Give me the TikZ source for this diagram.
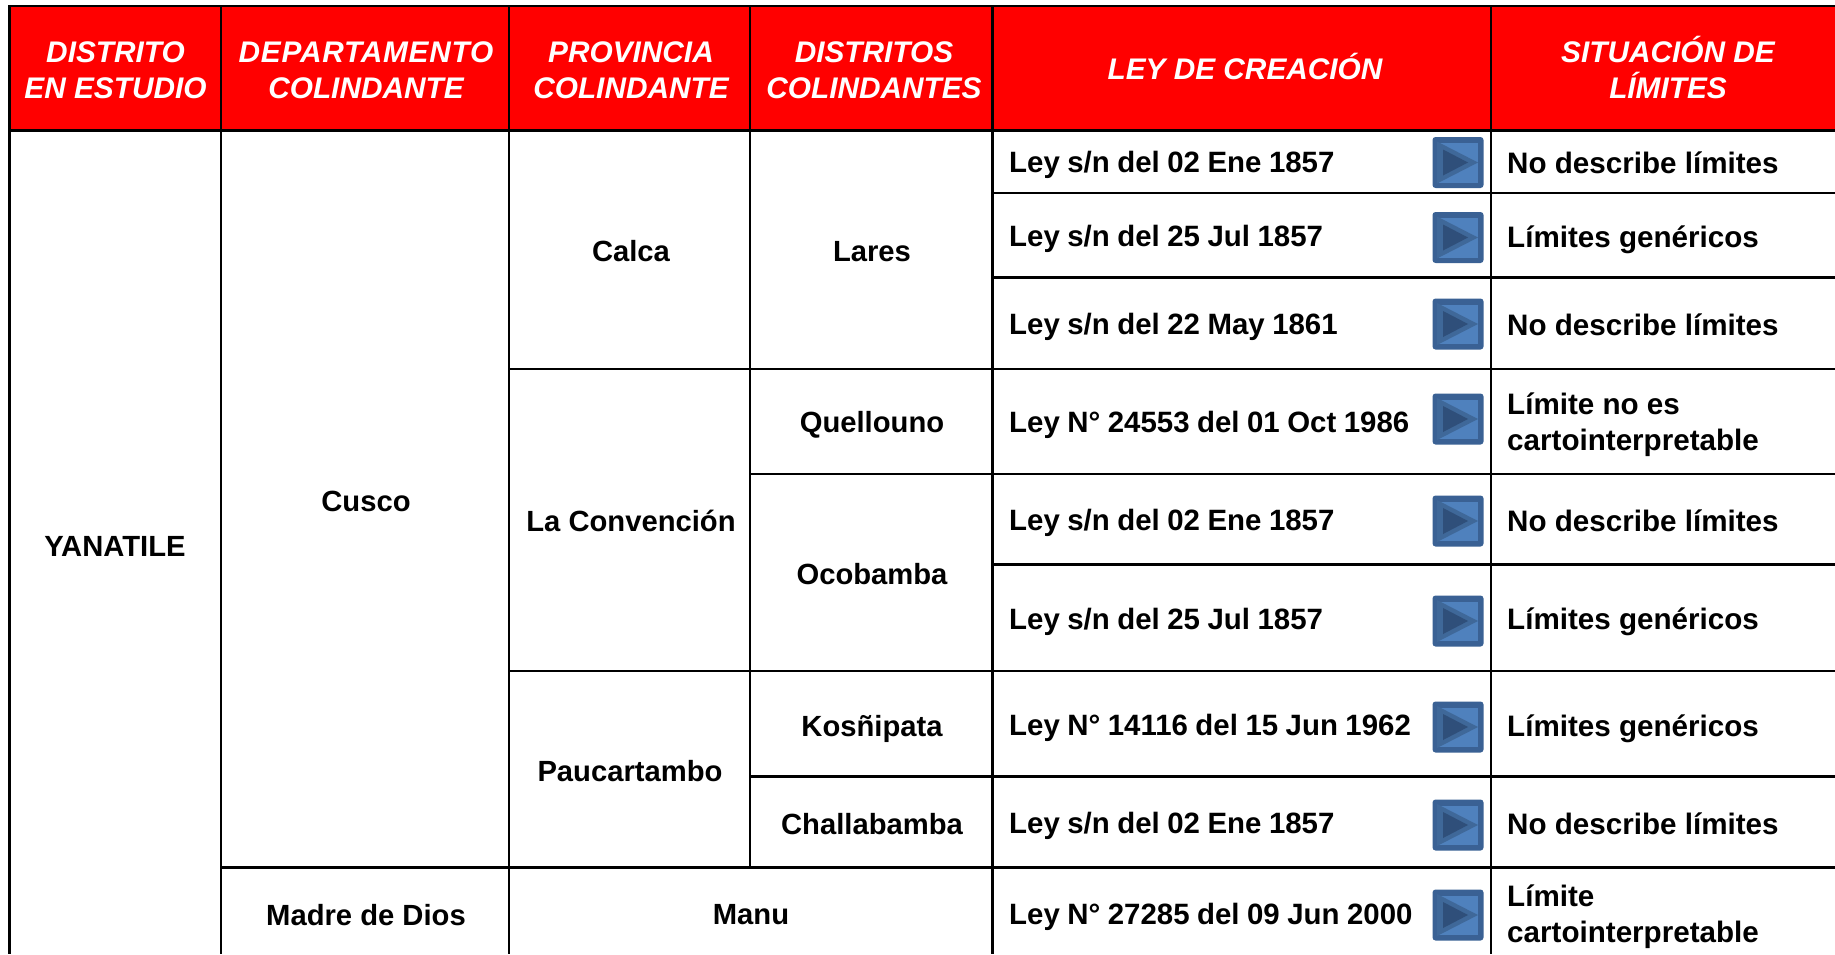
\documentclass[tikz,border=0pt]{standalone}
\usepackage{fontspec}
\setmainfont{Liberation Sans}
\newfontfamily\lawfont[WordSpace=0.92]{Liberation Sans}
\definecolor{icoEdge}{HTML}{3A6194}
\definecolor{icoFill}{HTML}{4F81BD}
\definecolor{icoTri}{HTML}{3F6899}
\definecolor{icoDark}{HTML}{2F4F7A}
\tikzset{
  rule/.style={line width=2.2pt,black},
  head/.style={font=\fontsize{29.8}{36}\selectfont\bfseries\itshape,text=white,align=center,inner sep=0pt},
  cell/.style={font=\fontsize{29.2}{36}\selectfont\bfseries,text=black,align=center,inner sep=0pt},
  lawcell/.style={font=\lawfont\fontsize{29.4}{36}\selectfont\bfseries,text=black,align=left,anchor=west,inner sep=0pt},
  lcell/.style={font=\fontsize{29.6}{36}\selectfont\bfseries,text=black,align=left,anchor=west,inner sep=0pt},
  pics/playicon/.style={code={
    \fill[icoEdge,rounded corners=3pt] (-25.5,-25.5) rectangle (25.5,25.5);
    \fill[icoFill] (-19.5,-19.5) rectangle (20,20);
    \fill[icoTri] (-21,-21) -- (20,0) -- (-21,21) -- cycle;
    \fill[icoDark] (-15,-13) -- (10,0) -- (-15,13) -- cycle;
  }}
}
\begin{document}
\begin{tikzpicture}[x=1pt,y=-1pt]
\useasboundingbox (0,0) rectangle (1835,954);
\fill[white] (0,0) rectangle (1835,954);
\fill[red] (9.5,6) rectangle (1835,130.5);
% vertical rules
\draw[rule] (9.5,5) -- (9.5,954);
\draw[rule] (221,5) -- (221,954);
\draw[rule] (509,5) -- (509,954);
\draw[rule] (750,5) -- (750,867.5);
\draw[rule] (992.5,5) -- (992.5,954);
\draw[rule] (1491,5) -- (1491,954);
% horizontal rules
\draw[rule] (8.5,6) -- (1835,6);
\draw[rule] (8.5,130.5) -- (1835,130.5);
\draw[rule] (992.5,193) -- (1835,193);
\draw[rule] (992.5,277.5) -- (1835,277.5);
\draw[rule] (509,369) -- (1835,369);
\draw[rule] (750,474) -- (1835,474);
\draw[rule] (992.5,564.5) -- (1835,564.5);
\draw[rule] (509,671) -- (1835,671);
\draw[rule] (750,776.5) -- (1835,776.5);
\draw[rule] (221,867.5) -- (1835,867.5);
% header
\node[head] (h1) at (115.5,70) {DISTRITO\\EN ESTUDIO};
\node[head] (h2) at (366,70) {{\addfontfeatures{LetterSpace=2.6}DEPARTAMENTO}\\COLINDANTE};
\node[head] (h3) at (631,70) {PROVINCIA\\COLINDANTE};
\node[head] (h4) at (874,70) {DISTRITOS\\COLINDANTES};
\node[head] (h5) at (1245,66) {LEY DE CREACIÓN};
\node[head] (h6) at (1668,67) {SITUACIÓN DE\\LÍMITES};
% merged cells
\node[cell] (yan) at (115,546) {YANATILE};
\node[cell] (cus) at (366,501) {Cusco};
\node[cell] (mad) at (366,915) {Madre de Dios};
\node[cell] (cal) at (631,251) {Calca};
\node[cell] (lac) at (631,521) {La Convención};
\node[cell] (pau) at (630,771) {Paucartambo};
\node[cell] (man) at (751,915) {Manu};
\node[cell] (lar) at (872,252) {Lares};
\node[cell] (que) at (872,425) {Quellouno};
\node[cell] (oco) at (872,574) {Ocobamba};
\node[cell] (kos) at (872,729) {Kosñipata};
\node[cell] (cha) at (872,824) {Challabamba};
% law column
\node[lawcell] (l1) at (1009,165) {Ley s/n del 02 Ene 1857};
\node[lawcell] (l2) at (1009,239) {Ley s/n del 25 Jul 1857};
\node[lawcell] (l3) at (1009,327) {Ley s/n del 22 May 1861};
\node[lawcell] (l4) at (1009,425) {Ley N° 24553 del 01 Oct 1986};
\node[lawcell] (l5) at (1009,523) {Ley s/n del 02 Ene 1857};
\node[lawcell] (l6) at (1009,622) {Ley s/n del 25 Jul 1857};
\node[lawcell] (l7) at (1009,728) {Ley N° 14116 del 15 Jun 1962};
\node[lawcell] (l8) at (1009,826) {Ley s/n del 02 Ene 1857};
\node[lawcell] (l9) at (1009,917) {Ley N° 27285 del 09 Jun 2000};
% situation column
\node[lcell] (s1) at (1507,163) {No describe límites};
\node[lcell] (s2) at (1507,240) {Límites genéricos};
\node[lcell] (s3) at (1507,325) {No describe límites};
\node[lcell] (s4) at (1507,425) {Límite no es\\cartointerpretable};
\node[lcell] (s5) at (1507,521) {No describe límites};
\node[lcell] (s6) at (1507,622) {Límites genéricos};
\node[lcell] (s7) at (1507,729) {Límites genéricos};
\node[lcell] (s8) at (1507,824) {No describe límites};
\node[lcell] (s9) at (1507,917) {Límite\\cartointerpretable};
% icons
\pic at (1458,162.5) {playicon};
\pic at (1458,237.5) {playicon};
\pic at (1458,324) {playicon};
\pic at (1458,419) {playicon};
\pic at (1458,521) {playicon};
\pic at (1458,621) {playicon};
\pic at (1458,727) {playicon};
\pic at (1458,825) {playicon};
\pic at (1458,915) {playicon};
\end{tikzpicture}
\end{document}
